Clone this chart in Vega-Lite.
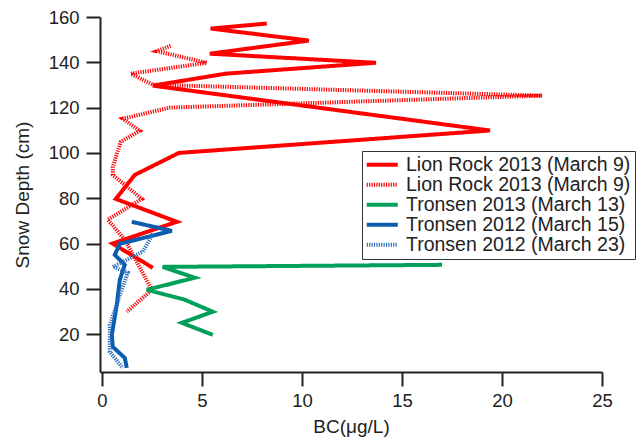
{
  "$schema": "https://vega.github.io/schema/vega-lite/v6.json",
  "width": 502,
  "height": 355,
  "autosize": {"type": "none"},
  "padding": {"left": 100, "top": 17, "right": 39, "bottom": 68},
  "background": "white",
  "view": {"stroke": null},
  "config": {
    "font": "Liberation Sans",
    "axis": {
      "domainColor": "#222", "domainWidth": 2, "tickColor": "#222", "tickWidth": 2, "tickSize": 14,
      "labelFontSize": 18.5, "labelColor": "#222", "titleFontSize": 19, "titleFontWeight": "normal",
      "titleColor": "#222", "grid": false, "labelFont": "Liberation Sans", "titleFont": "Liberation Sans",
      "labelFlush": false, "labelOverlap": false
    }
  },
  "data": {
    "values": [
      {"id": "a", "i": 1, "bc": 8.24, "depth": 157.1},
      {"id": "a", "i": 2, "bc": 5.43, "depth": 154.9},
      {"id": "a", "i": 3, "bc": 10.34, "depth": 149.6},
      {"id": "a", "i": 4, "bc": 5.39, "depth": 143.8},
      {"id": "a", "i": 5, "bc": 13.7, "depth": 139.8},
      {"id": "a", "i": 6, "bc": 6.2, "depth": 135.0},
      {"id": "a", "i": 7, "bc": 2.54, "depth": 129.7},
      {"id": "a", "i": 8, "bc": 19.4, "depth": 109.9},
      {"id": "a", "i": 9, "bc": 3.84, "depth": 100.0},
      {"id": "a", "i": 10, "bc": 1.64, "depth": 90.3},
      {"id": "a", "i": 11, "bc": 0.69, "depth": 79.7},
      {"id": "a", "i": 12, "bc": 3.74, "depth": 69.6},
      {"id": "a", "i": 13, "bc": 0.53, "depth": 60.0},
      {"id": "a", "i": 14, "bc": 2.54, "depth": 49.3},

      {"id": "b", "i": 1, "bc": 3.43, "depth": 147.3},
      {"id": "b", "i": 2, "bc": 2.74, "depth": 144.9},
      {"id": "b", "i": 3, "bc": 5.24, "depth": 139.8},
      {"id": "b", "i": 4, "bc": 1.44, "depth": 135.0},
      {"id": "b", "i": 5, "bc": 2.54, "depth": 130.1},
      {"id": "b", "i": 6, "bc": 22.0, "depth": 125.3},
      {"id": "b", "i": 7, "bc": 3.39, "depth": 120.0},
      {"id": "b", "i": 8, "bc": 1.04, "depth": 115.1},
      {"id": "b", "i": 9, "bc": 1.89, "depth": 109.8},
      {"id": "b", "i": 10, "bc": 0.94, "depth": 104.9},
      {"id": "b", "i": 11, "bc": 0.54, "depth": 93.9},
      {"id": "b", "i": 12, "bc": 0.54, "depth": 90.3},
      {"id": "b", "i": 13, "bc": 1.99, "depth": 79.7},
      {"id": "b", "i": 14, "bc": 0.29, "depth": 70.5},
      {"id": "b", "i": 15, "bc": 1.14, "depth": 61.7},
      {"id": "b", "i": 16, "bc": 2.49, "depth": 39.6},
      {"id": "b", "i": 17, "bc": 1.24, "depth": 29.9},

      {"id": "c", "i": 1, "bc": 17.0, "depth": 50.6},
      {"id": "c", "i": 2, "bc": 3.03, "depth": 49.7},
      {"id": "c", "i": 3, "bc": 4.64, "depth": 44.9},
      {"id": "c", "i": 4, "bc": 2.24, "depth": 39.6},
      {"id": "c", "i": 5, "bc": 4.14, "depth": 35.2},
      {"id": "c", "i": 6, "bc": 5.54, "depth": 29.9},
      {"id": "c", "i": 7, "bc": 3.99, "depth": 25.0},
      {"id": "c", "i": 8, "bc": 5.54, "depth": 19.7},

      {"id": "d", "i": 1, "bc": 1.49, "depth": 69.6},
      {"id": "d", "i": 2, "bc": 3.49, "depth": 65.6},
      {"id": "d", "i": 3, "bc": 0.89, "depth": 59.9},
      {"id": "d", "i": 4, "bc": 0.64, "depth": 55.0},
      {"id": "d", "i": 5, "bc": 1.14, "depth": 50.6},
      {"id": "d", "i": 6, "bc": 0.89, "depth": 44.0},
      {"id": "d", "i": 7, "bc": 0.74, "depth": 32.9},
      {"id": "d", "i": 8, "bc": 0.49, "depth": 19.7},
      {"id": "d", "i": 9, "bc": 0.54, "depth": 14.4},
      {"id": "d", "i": 10, "bc": 1.14, "depth": 9.5},
      {"id": "d", "i": 11, "bc": 1.24, "depth": 5.1},

      {"id": "e", "i": 1, "bc": 2.54, "depth": 64.3},
      {"id": "e", "i": 2, "bc": 2.04, "depth": 56.4},
      {"id": "e", "i": 3, "bc": 0.54, "depth": 49.7},
      {"id": "e", "i": 4, "bc": 1.29, "depth": 47.1},
      {"id": "e", "i": 5, "bc": 0.99, "depth": 39.6},
      {"id": "e", "i": 6, "bc": 0.39, "depth": 24.1},
      {"id": "e", "i": 7, "bc": 0.39, "depth": 12.2},
      {"id": "e", "i": 8, "bc": 0.79, "depth": 7.8},
      {"id": "e", "i": 9, "bc": 1.04, "depth": 5.1}
    ]
  },
  "mark": {"type": "line", "strokeWidth": 4, "strokeCap": "butt", "strokeJoin": "miter"},
  "encoding": {
    "x": {
      "field": "bc", "type": "quantitative",
      "scale": {"domain": [-0.1, 25], "nice": false, "zero": false},
      "axis": {"values": [0, 5, 10, 15, 20, 25], "title": "BC(μg/L)", "labelPadding": 5, "titlePadding": 8}
    },
    "y": {
      "field": "depth", "type": "quantitative",
      "scale": {"domain": [3.3, 160], "nice": false, "zero": false},
      "axis": {"values": [20, 40, 60, 80, 100, 120, 140, 160], "title": "Snow Depth (cm)", "labelPadding": 7, "titlePadding": 16}
    },
    "order": {"field": "i", "type": "quantitative"},
    "color": {
      "field": "id", "type": "nominal",
      "scale": {"domain": ["a", "b", "c", "d", "e"], "range": ["#FF0000", "#FF0000", "#00A05B", "#0A5CAD", "#2D6FBF"]},
      "legend": {
        "title": null, "orient": "none", "legendX": 262, "legendY": 134,
        "labelExpr": "datum.value == 'a' || datum.value == 'b' ? 'Lion Rock 2013 (March 9)' : datum.value == 'c' ? 'Tronsen 2013 (March 13)' : datum.value == 'd' ? 'Tronsen 2012 (March 15)' : 'Tronsen 2012 (March 23)'",
        "labelFontSize": 19.5, "labelColor": "#222", "labelFont": "Liberation Sans", "labelLimit": 0,
        "symbolType": "M-2.07,0H2.07", "symbolSize": 225, "symbolStrokeWidth": 4,
        "symbolOffset": 6.5, "labelOffset": 14, "rowPadding": -1.5, "padding": 4,
        "strokeColor": "#333", "fillColor": "white", "cornerRadius": 0
      }
    },
    "strokeDash": {
      "field": "id", "type": "nominal",
      "scale": {"domain": ["a", "b", "c", "d", "e"], "range": [[1, 0], [1.2, 1.2], [1, 0], [1, 0], [1.2, 1.2]]},
      "legend": {
        "title": null, "orient": "none", "legendX": 262, "legendY": 134,
        "labelExpr": "datum.value == 'a' || datum.value == 'b' ? 'Lion Rock 2013 (March 9)' : datum.value == 'c' ? 'Tronsen 2013 (March 13)' : datum.value == 'd' ? 'Tronsen 2012 (March 15)' : 'Tronsen 2012 (March 23)'",
        "labelFontSize": 19.5, "labelColor": "#222", "labelFont": "Liberation Sans", "labelLimit": 0,
        "symbolType": "M-2.07,0H2.07", "symbolSize": 225, "symbolStrokeWidth": 4,
        "symbolOffset": 6.5, "labelOffset": 14, "rowPadding": -1.5, "padding": 4,
        "strokeColor": "#333", "fillColor": "white", "cornerRadius": 0
      }
    }
  }
}
